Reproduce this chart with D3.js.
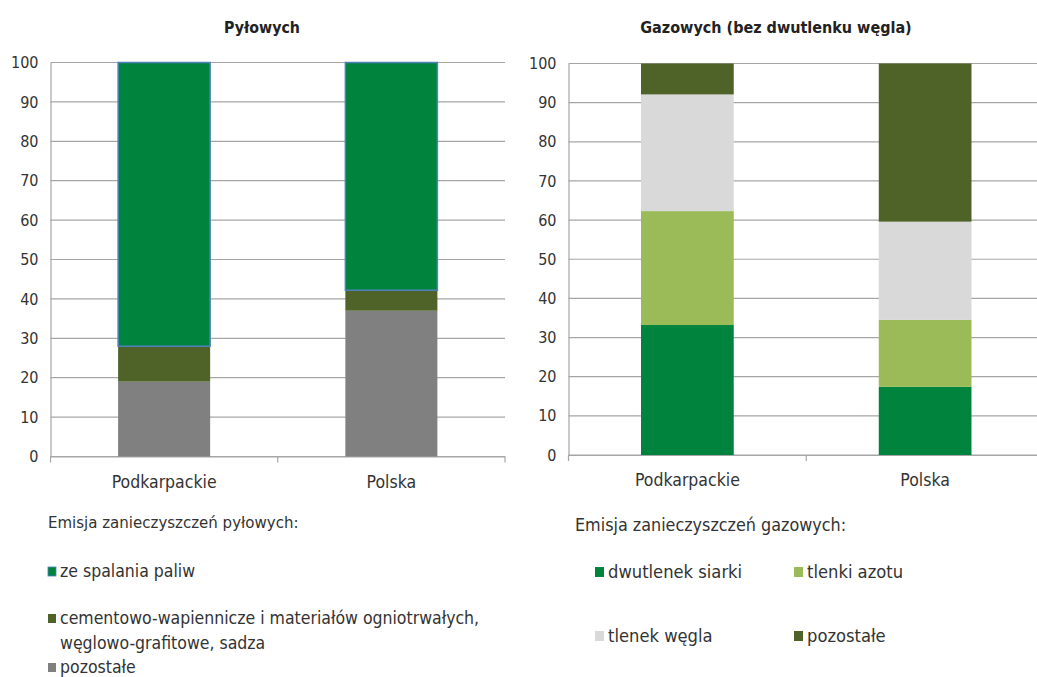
<!DOCTYPE html>
<html><head><meta charset="utf-8">
<script src="https://cdn.jsdelivr.net/npm/d3@7"></script>
<style>
body{margin:0;background:#fff;}
svg text{font-family:"DejaVu Sans Condensed","Liberation Sans Narrow","DejaVu Sans",sans-serif;fill:#333;}
</style></head>
<body><svg id="c" width="1037" height="677"></svg>
<script>
const categories = ["Podkarpackie", "Polska"];
const yTicks = [0,10,20,30,40,50,60,70,80,90,100];

// Pyłowe (dust) emissions, % share
const dustSeries = ["pozostałe", "cementowo-wapiennicze", "ze spalania paliw"];
const dustPozostale = [19, 37];
const dustCement = [9, 5.2];
const dustSpalanie = [72, 57.8];
const dustColors = ["#808080", "#4f6228", "#00843d"];

// Gazowe (gas) emissions, % share
const gasSeries = ["dwutlenek siarki", "tlenki azotu", "tlenek węgla", "pozostałe"];
const gasSiarki = [33.2, 17.4];
const gasAzotu = [29.1, 17.1];
const gasWegla = [29.8, 25.1];
const gasPozostale = [7.9, 40.4];
const gasColors = ["#00843d", "#9bbb59", "#d9d9d9", "#4f6228"];

const svg = d3.select("#c");

function drawChart(cfg) {
  const g = svg.append("g");
  const x = d3.scaleBand().domain(categories).range([cfg.x0, cfg.x1]).paddingInner(0).paddingOuter(0);
  const y = d3.scaleLinear().domain([0,100]).range([cfg.y0, cfg.y1]);
  g.append("g").selectAll("line").data(yTicks).join("line")
    .attr("x1", cfg.x0).attr("x2", cfg.x1)
    .attr("y1", d=>y(d)).attr("y2", d=>y(d))
    .attr("stroke", "#a6a6a6").attr("stroke-width", 1.2);
  const ya = g.append("g").attr("transform", `translate(${cfg.x0},0)`)
    .call(d3.axisLeft(y).tickValues(yTicks).tickSize(0).tickPadding(cfg.tickPad));
  ya.select(".domain").attr("stroke", "#a6a6a6").attr("stroke-width", 1.2);
  ya.selectAll("text").attr("font-size", 16).style("fill", "#333");
  const xa = g.append("g").attr("transform", `translate(0,${cfg.y0})`)
    .call(d3.axisBottom(x).tickSize(0).tickPadding(19));
  xa.select(".domain").attr("stroke", "#a6a6a6").attr("stroke-width", 1.2);
  xa.selectAll("text").attr("font-size", 17.5).style("fill", "#333");
  const bounds = [cfg.x0, cfg.x0 + x.bandwidth(), cfg.x0 + 2*x.bandwidth()];
  xa.append("g").selectAll("line").data(bounds).join("line")
    .attr("x1", d=>d).attr("x2", d=>d).attr("y1", 0).attr("y2", 6)
    .attr("stroke", "#a6a6a6").attr("stroke-width", 1.2);
  const rows = categories.map((c,i)=>{const o={cat:c}; cfg.keys.forEach((k,j)=>o[k]=cfg.vals[j][i]); return o;});
  const stack = d3.stack().keys(cfg.keys)(rows);
  const bw = x.bandwidth()*cfg.barFrac;
  stack.forEach((layer, li) => {
    g.append("g").selectAll("rect").data(layer).join("rect")
      .attr("x", d=>x(d.data.cat) + (x.bandwidth()-bw)/2)
      .attr("width", bw)
      .attr("y", d=>y(d[1]))
      .attr("height", d=>y(d[0])-y(d[1]))
      .attr("fill", cfg.colors[li])
      .attr("stroke", cfg.outline && cfg.outline[li] ? cfg.outline[li] : "none")
      .attr("stroke-width", 1.5);
  });
  g.append("text").attr("x", cfg.titleX).attr("y", cfg.titleY).attr("text-anchor","middle")
    .attr("font-size", cfg.titleSize).attr("font-weight","bold").style("fill","#222").text(cfg.title);
}

drawChart({x0:50.5, x1:505, y0:456.5, y1:62.5, keys:dustSeries,
  vals:[dustPozostale, dustCement, dustSpalanie], colors:dustColors,
  outline:[null,null,"#4f81bd"], barFrac:0.405, tickPad:12,
  title:"Pyłowych", titleX:262, titleY:33, titleSize:15.8});

drawChart({x0:568.5, x1:1044, y0:455, y1:63.5, keys:gasSeries,
  vals:[gasSiarki, gasAzotu, gasWegla, gasPozostale], colors:gasColors,
  outline:null, barFrac:0.39, tickPad:12,
  title:"Gazowych (bez dwutlenku węgla)", titleX:776, titleY:33, titleSize:16});

// Left legend
const lg = svg.append("g");
lg.append("text").attr("x", 48).attr("y", 528).attr("font-size", 16.7).text("Emisja zanieczyszczeń pyłowych:");
const dustLegend = [
  {c: dustColors[2], lines:["ze spalania paliw"], y:577, stroke:"#4f81bd"},
  {c: dustColors[1], lines:["cementowo-wapiennicze i materiałów ogniotrwałych,", "węglowo-grafitowe, sadza"], y:624},
  {c: dustColors[0], lines:["pozostałe"], y:673}
];
dustLegend.forEach(d=>{
  lg.append("rect").attr("x",48).attr("y",d.y-10).attr("width",8).attr("height",9).attr("fill",d.c)
    .attr("stroke", d.stroke||"none").attr("stroke-width",0.8);
  d.lines.forEach((t,i)=>lg.append("text").attr("x",60).attr("y",d.y+i*25).attr("font-size",17.5).text(t));
});

// Right legend
const rg = svg.append("g");
rg.append("text").attr("x", 575).attr("y", 531).attr("font-size", 17.8).text("Emisja zanieczyszczeń gazowych:");
const gasLegend = [
  {c:gasColors[0], t:gasSeries[0], x:595, y:578},
  {c:gasColors[1], t:gasSeries[1], x:794, y:578},
  {c:gasColors[2], t:gasSeries[2], x:595, y:642},
  {c:gasColors[3], t:gasSeries[3], x:794, y:642}
];
gasLegend.forEach(d=>{
  rg.append("rect").attr("x",d.x).attr("y",d.y-11).attr("width",9).attr("height",10).attr("fill",d.c);
  rg.append("text").attr("x",d.x+13).attr("y",d.y).attr("font-size",18.2).text(d.t);
});
</script></body></html>
